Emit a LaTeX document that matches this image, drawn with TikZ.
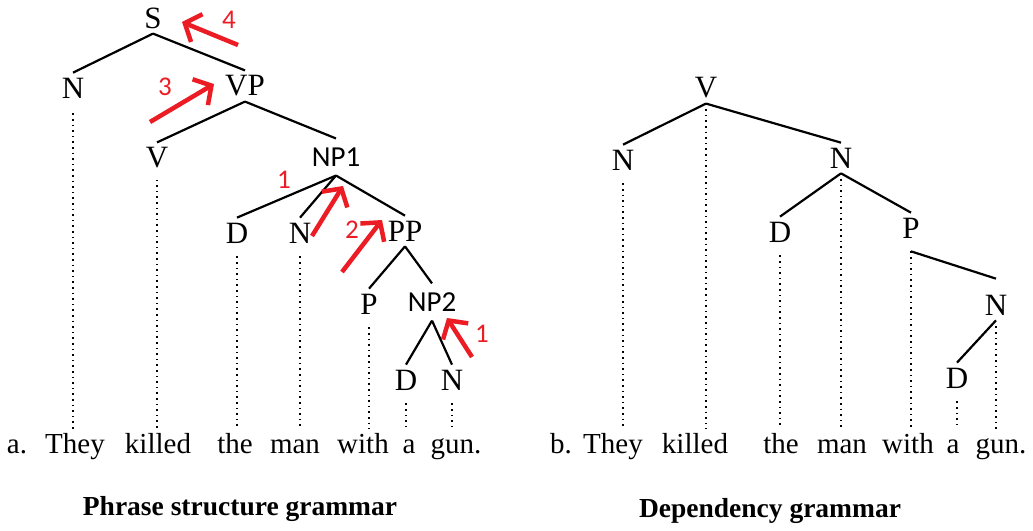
\documentclass[tikz,border=0pt]{standalone}
\usepackage{fontspec}
\setmainfont{Liberation Serif}
\newfontfamily\calfont{Carlito}
\usetikzlibrary{arrows.meta}
\definecolor{penred}{RGB}{236,28,36}
\tikzset{
  lbl/.style={font=\fontsize{31}{33}\selectfont, inner sep=5pt},
  sanslbl/.style={font=\calfont\fontsize{29}{31}\selectfont, inner xsep=4pt, inner ysep=9pt},
  word/.style={font=\fontsize{29}{31}\selectfont, anchor=base, inner sep=4pt, text height=20pt, text depth=6pt},
  capt/.style={font=\bfseries\fontsize{27.5}{30}\selectfont},
  branch/.style={line width=2.2pt},
  dots/.style={line width=2pt, dash pattern=on 1.6pt off 4pt},
  redpen/.style={draw=penred, line width=4.5pt, -{Straight Barb[length=13pt,width=30pt,line width=4.5pt]}},
  redtxt/.style={font=\calfont\fontsize{27}{29}\selectfont, text=penred}
}
\begin{document}
\begin{tikzpicture}[x=1pt,y=-1pt]
  \useasboundingbox (0,0) rectangle (1033,530);
  % a. phrase structure tree
  \node[lbl] at (153,18) (s) {S};
  \node[lbl] at (73,88) (n1) {N};
  \node[lbl] at (245,86) (vp) {VP};
  \node[lbl] at (157,158) (v1) {V};
  \node[sanslbl] at (336,157) (np1) {NP1};
  \node[lbl] at (237,233) (d1) {D};
  \node[lbl] at (300,233) (n2) {N};
  \node[lbl] at (405,231) (pp) {PP};
  \node[lbl] at (369,304) (p1) {P};
  \node[sanslbl] at (432,302) (np2) {NP2};
  \node[lbl] at (406,380) (d2) {D};
  \node[lbl] at (452,380) (n3) {N};
  %
  \node[word] at (17,453) (wa0) {a.};
  \node[word] at (75,453) (wa1) {They};
  \node[word] at (158,453) (wa2) {killed};
  \node[word] at (235,453) (wa3) {the};
  \node[word] at (295,453) (wa4) {man};
  \node[word] at (363,453) (wa5) {with};
  \node[word] at (409,453) (wa6) {a};
  \node[word] at (456,453) (wa7) {gun.};
  %
  \draw[branch] (s.south) -- (n1.north);
  \draw[branch] (s.south) -- (vp.north);
  \draw[branch] (vp.south) -- (v1.north);
  \draw[branch] (vp.south) -- (np1.north);
  \draw[branch] (np1.south) -- (d1.north);
  \draw[branch] (np1.south) -- (n2.north);
  \draw[branch] (np1.south) -- (pp.north);
  \draw[branch] (pp.south) -- (p1.north);
  \draw[branch] (pp.south) -- (np2.north);
  \draw[branch] (np2.south) -- (d2.north);
  \draw[branch] (np2.south) -- (n3.north);
  %
  \draw[dots, shorten <=10pt] (n1.south) -- (n1.south |- wa1.north);
  \draw[dots, shorten <=6pt] (v1.south) -- (v1.south |- wa2.north);
  \draw[dots, shorten <=8pt] (d1.south) -- (d1.south |- wa3.north);
  \draw[dots, shorten <=8pt] (n2.south) -- (n2.south |- wa4.north);
  \draw[dots, shorten <=8pt] (p1.south) -- (p1.south |- wa5.north);
  \draw[dots, shorten <=8pt] (d2.south) -- (d2.south |- wa6.north);
  \draw[dots, shorten <=8pt] (n3.south) -- (n3.south |- wa7.north);
  %
  \coordinate (r4a) at (238,45);  \coordinate (r4b) at (182,22);
  \coordinate (r3a) at (150,122); \coordinate (r3b) at (214,84);
  \coordinate (r1a) at (312,236); \coordinate (r1b) at (343,186);
  \coordinate (r2a) at (342,272); \coordinate (r2b) at (382,220);
  \coordinate (r5a) at (472,357); \coordinate (r5b) at (447,318);
  \draw[redpen] (r4a) -- (r4b);
  \draw[redpen] (r3a) -- (r3b);
  \draw[redpen] (r1a) -- (r1b);
  \draw[redpen] (r2a) -- (r2b);
  \draw[redpen] (r5a) -- (r5b);
  \node[redtxt] at (229,20) (t4) {4};
  \node[redtxt] at (165,87) (t3) {3};
  \node[redtxt] at (284,180) (t1) {1};
  \node[redtxt] at (352,230) (t2) {2};
  \node[redtxt] at (482,334) (t5) {1};
  %
  \node[capt] at (240,509) (cap1) {Phrase structure grammar};
  % b. dependency tree
  \node[lbl] at (706,88) (vr) {V};
  \node[lbl] at (623,160) (nr1) {N};
  \node[lbl] at (841,158) (nr2) {N};
  \node[lbl] at (780,232) (dr1) {D};
  \node[lbl] at (911,228) (pr) {P};
  \node[lbl] at (996,305) (nr3) {N};
  \node[lbl] at (957,378) (dr2) {D};
  %
  \node[word] at (561,453) (wb0) {b.};
  \node[word] at (613,453) (wb1) {They};
  \node[word] at (695,453) (wb2) {killed};
  \node[word] at (781,453) (wb3) {the};
  \node[word] at (842,453) (wb4) {man};
  \node[word] at (908,453) (wb5) {with};
  \node[word] at (953,453) (wb6) {a};
  \node[word] at (1001,453) (wb7) {gun.};
  %
  \draw[branch] (vr.south) -- (nr1.north);
  \draw[branch] (vr.south) -- (nr2.north);
  \draw[branch] (nr2.south) -- (dr1.north);
  \draw[branch] (nr2.south) -- (pr.north);
  \draw[branch] ([yshift=-8pt]pr.south) -- ([yshift=11pt]nr3.north);
  \draw[branch] (nr3.south) -- (dr2.north);
  %
  \draw[dots, shorten <=8pt] (nr1.south) -- (nr1.south |- wb1.north);
  \draw[dots] (vr.south) -- (vr.south |- wb2.north);
  \draw[dots, shorten <=8pt] (dr1.south) -- (dr1.south |- wb3.north);
  \draw[dots] (nr2.south) -- (nr2.south |- wb4.north);
  \draw[dots, shorten <=8pt] (pr.south) -- (pr.south |- wb5.north);
  \draw[dots, shorten <=8pt] (dr2.south) -- (dr2.south |- wb6.north);
  \draw[dots, shorten <=6pt] (nr3.south) -- (nr3.south |- wb7.north);
  %
  \node[capt] at (770,511) (cap2) {Dependency grammar};
\end{tikzpicture}
\end{document}
